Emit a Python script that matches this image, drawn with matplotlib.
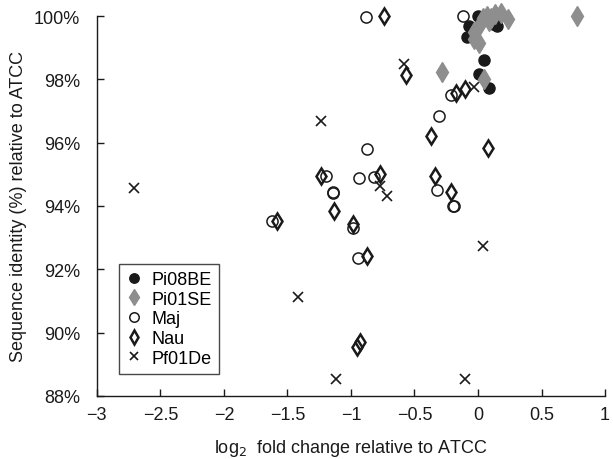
import matplotlib
matplotlib.use("Agg")
import matplotlib.pyplot as plt
from matplotlib.ticker import PercentFormatter

plt.rcParams['font.family'] = ['Liberation Sans', 'DejaVu Sans']

# log2 fold change (x) and sequence identity in % (y) per isolate
pi08be_x = [0.0, 0.13, -0.07, -0.09, 0.15, 0.12, 0.05, 0.01, 0.09]
pi08be_y = [100.0, 100.0, 99.7, 99.33, 99.68, 99.75, 98.6, 98.17, 97.73]

pi01se_x = [0.78, -0.285, 0.05, 0.07, 0.13, 0.18, 0.24, 0.01, 0.09, -0.03, -0.035, 0.01, 0.1, 0.04]
pi01se_y = [100.0, 98.23, 98.0, 100.0, 100.05, 100.1, 99.9, 99.7, 99.85, 99.5, 99.27, 99.15, 99.95, 99.95]

maj_x = [-0.885, -0.12, -0.31, -0.875, -1.195, -0.94, -0.815, -1.14, -1.14,
         -0.325, -0.19, -0.2, -0.98, -0.945, -1.625, -0.21]
maj_y = [99.97, 100.0, 96.84, 95.8, 94.95, 94.88, 94.91, 94.41, 94.44,
         94.5, 94.0, 94.0, 93.3, 92.36, 93.52, 97.5]

nau_x = [-0.74, -0.57, -0.37, -0.175, -0.105, 0.08, -1.235, -0.775, -0.34,
         -0.215, -1.135, -0.985, -0.87, -1.58, -0.95, -0.925]
nau_y = [100.0, 98.13, 96.21, 97.57, 97.7, 95.83, 94.95, 95.0, 94.95,
         94.44, 93.84, 93.43, 92.42, 93.52, 89.55, 89.7]

pf01de_x = [-2.71, -1.235, -0.58, -0.775, -0.72, 0.04, -1.42, -1.12, -0.105, -0.035]
pf01de_y = [94.57, 96.68, 98.48, 94.63, 94.32, 92.74, 91.13, 88.54, 88.54, 97.76]

fig = plt.figure(figsize=(6.13, 4.6), dpi=100)
ax = fig.add_axes([0.158, 0.137, 0.829, 0.826])

ink = '#1a1a1a'
ax.plot(pi08be_x, pi08be_y, 'o', ls='none', ms=8, color=ink,
        mec=ink, label='Pi08BE', clip_on=False)
ax.plot(pi01se_x, pi01se_y, 'd', ls='none', ms=10, color='#8e8e8e',
        mec='#8e8e8e', label='Pi01SE', clip_on=False)
ax.plot(maj_x, maj_y, 'o', ls='none', ms=8, mfc='none', mec=ink,
        mew=1.1, label='Maj', clip_on=False)
ax.plot(nau_x, nau_y, 'd', ls='none', ms=8.5, mfc='none', mec=ink,
        mew=1.8, label='Nau', clip_on=False)
ax.plot(pf01de_x, pf01de_y, 'x', ls='none', ms=6.5, color=ink,
        mew=1.2, label='Pf01De', clip_on=False)

ax.set_xlim(-3, 1)
ax.set_ylim(88, 100)
ax.set_xticks([-3, -2.5, -2, -1.5, -1, -0.5, 0, 0.5, 1])
ax.set_xticklabels(['\u22123', '\u22122.5', '\u22122', '\u22121.5', '\u22121',
                    '\u22120.5', '0', '0.5', '1'])
ax.set_yticks([88, 90, 92, 94, 96, 98, 100])
ax.yaxis.set_major_formatter(PercentFormatter(decimals=0))

for side in ['top', 'right']:
    ax.spines[side].set_visible(False)
for side in ['left', 'bottom']:
    ax.spines[side].set_color(ink)
    ax.spines[side].set_linewidth(1.0)
ax.tick_params(direction='in', length=5, width=1, labelsize=13,
               colors=ink, pad=7)
ax.tick_params(axis='y', pad=12)

ax.set_xlabel('log$_2$  fold change relative to ATCC', fontsize=13,
              color=ink, labelpad=10)
ax.set_ylabel('Sequence identity (%) relative to ATCC', fontsize=13,
              color=ink, labelpad=5)

leg = ax.legend(loc='lower left', bbox_to_anchor=(0.043, 0.058), fontsize=13,
                frameon=True, fancybox=False, edgecolor=ink,
                handlelength=0.9, handletextpad=0.5, borderpad=0.4,
                labelspacing=0.15, borderaxespad=0, markerscale=0.85)
leg.get_frame().set_linewidth(1.0)

fig.savefig('out.png', dpi=100)
